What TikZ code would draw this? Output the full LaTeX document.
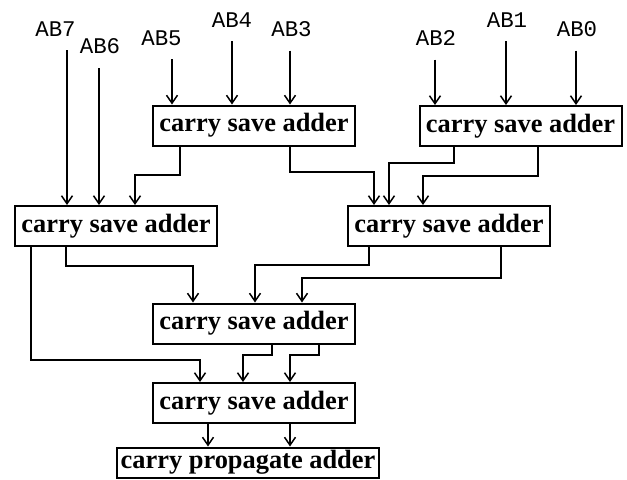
\documentclass[tikz,border=0pt]{standalone}
\usepackage{fontspec}
\setmainfont{Liberation Serif}
\newfontfamily\monolabel{Liberation Mono}
\usetikzlibrary{arrows.meta}

\begin{document}
\begin{tikzpicture}[x=0.5pt, y=-0.5pt,
    adder/.style={draw, line width=1pt, minimum width=101pt, minimum height=20pt,
        inner sep=0pt, font=\bfseries\fontsize{13.2}{15}\selectfont},
    bitlabel/.style={inner sep=0pt, outer ysep=7pt, font=\monolabel\fontsize{11.2}{13}\selectfont},
    wire/.style={line width=0.75pt, -{Straight Barb[length=4pt, width=5.5pt]}}]

    % Page frame (pixel grid of the reference)
    \useasboundingbox (0,0) rectangle (627,479);

    % Adder stages
    \node[adder] (csaA) at (254,125.5) {carry save adder};
    \node[adder] (csaB) at (520.5,126) {carry save adder};
    \node[adder] (csaC) at (116,226) {carry save adder};
    \node[adder] (csaD) at (449,226) {carry save adder};
    \node[adder] (csaE) at (254,323.5) {carry save adder};
    \node[adder] (csaF) at (254,403) {carry save adder};
    \node[adder, minimum width=131pt, minimum height=15pt] (cpa) at (248,462.5) {carry propagate adder};

    % Partial product inputs
    \foreach \bit/\lx/\ly/\ax/\target in {7/55.5/29/67/csaC, 6/100/46.5/99/csaC,
        5/161.5/38/172/csaA, 4/232/20/232/csaA, 3/291.5/29/290/csaA,
        2/436/38/435/csaB, 1/507/20/506/csaB, 0/577/29/576/csaB} {
        \node[bitlabel] (ab\bit) at (\lx,\ly) {AB\bit};
        \draw[wire] (ab\bit.south -| \ax,0) -- (\ax,0 |- \target.north);
    }

    % First level -> second level
    \draw[wire] (csaA.south -| 180,0) |- (135,175) -- (135,0 |- csaC.north);
    \draw[wire] (csaA.south -| 290,0) |- (374,172) -- (374,0 |- csaD.north);
    \draw[wire] (csaB.south -| 454,0) |- (389,163) -- (389,0 |- csaD.north);
    \draw[wire] (csaB.south -| 538,0) |- (423,176) -- (423,0 |- csaD.north);

    % Second level -> third level
    \draw[wire] (csaC.south -| 66,0) |- (193,266) -- (193,0 |- csaE.north);
    \draw[wire] (csaD.south -| 369,0) |- (255,265) -- (255,0 |- csaE.north);
    \draw[wire] (csaD.south -| 501,0) |- (302,278) -- (302,0 |- csaE.north);

    % Third level -> fourth level
    \draw[wire] (csaC.south -| 31,0) |- (200,360) -- (200,0 |- csaF.north);
    \draw[wire] (csaE.south -| 272,0) |- (243,355) -- (243,0 |- csaF.north);
    \draw[wire] (csaE.south -| 319,0) |- (290,355) -- (290,0 |- csaF.north);

    % Final carry propagate adder
    \draw[wire] (csaF.south -| 208,0) -- (208,0 |- cpa.north);
    \draw[wire] (csaF.south -| 290,0) -- (290,0 |- cpa.north);

\end{tikzpicture}
\end{document}
